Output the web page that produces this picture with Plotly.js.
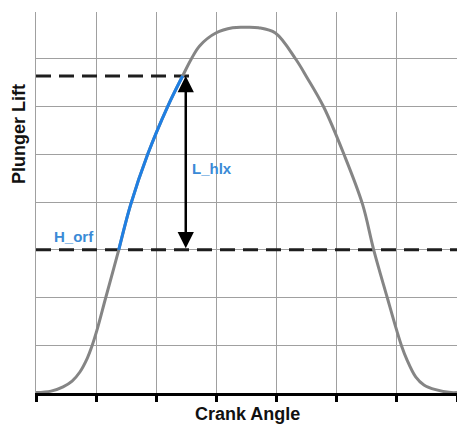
<!DOCTYPE html>
<html>
<head>
<meta charset="utf-8">
<script src="https://cdn.plot.ly/plotly-3.0.1.min.js"></script>
<style>html,body{margin:0;padding:0;background:#fff;}#chart{width:457px;height:426px;}</style>
</head>
<body>
<div id="chart"></div>
<script>
// Plunger lift profile vs crank angle (grid units)
const crankAngle = [0, 0.25, 0.45, 0.60, 0.73, 0.85, 0.93, 1.01, 1.16, 1.376, 1.575, 1.857, 2.189, 2.438, 2.58, 2.72, 2.99, 3.27, 3.47, 3.70, 3.98, 4.32, 4.50, 4.78, 5.12, 5.43, 5.615, 5.84, 6.00, 6.08, 6.16, 6.313, 6.45, 6.645, 6.90, 7.0];
const plungerLift = [0.01, 0.04, 0.13, 0.25, 0.44, 0.72, 0.98, 1.30, 2.0, 3.0, 3.95, 5.0, 6.0, 6.64, 6.99, 7.27, 7.54, 7.65, 7.66, 7.65, 7.54, 6.99, 6.62, 6.0, 5.0, 3.95, 3.0, 2.0, 1.30, 0.98, 0.72, 0.34, 0.17, 0.07, 0.01, 0.01];
// Helix segment: from orifice height to helix lift
const hOrf = 3.0;
const lHlxTop = 6.64;
const helixStartIdx = 9;
const helixEndIdx = 13;
const upperDashEnd = 2.6;
const arrowX = 2.49;
const labels = ["L_hlx", "H_orf"];
const axisTitles = ["Crank Angle", "Plunger Lift"];

const blueX = crankAngle.slice(helixStartIdx, helixEndIdx + 1);
const blueY = plungerLift.slice(helixStartIdx, helixEndIdx + 1);

const traces = [
  {x: [0, 7], y: [hOrf, hOrf], mode: 'lines', line: {color: '#1e1e1e', width: 3, dash: '15px,8px'}, hoverinfo: 'skip'},
  {x: [0, upperDashEnd], y: [lHlxTop, lHlxTop], mode: 'lines', line: {color: '#1e1e1e', width: 3, dash: '15px,8px'}, hoverinfo: 'skip'},
  {x: crankAngle, y: plungerLift, mode: 'lines', line: {color: '#858585', width: 3, shape: 'spline', smoothing: 1}},
  {x: blueX, y: blueY, mode: 'lines', line: {color: '#1f7fe3', width: 3, shape: 'spline', smoothing: 1}}
];

const layout = {
  width: 457, height: 426,
  margin: {l: 36, r: 0, t: 12, b: 33},
  showlegend: false,
  paper_bgcolor: '#fff', plot_bgcolor: '#fff',
  xaxis: {range: [0, 7], dtick: 1, tick0: 0, showticklabels: false, showgrid: true, gridcolor: '#a0a0a0', gridwidth: 1,
          zeroline: false, showline: true, linecolor: '#000', linewidth: 3, ticks: 'outside', ticklen: 6, tickwidth: 3, tickcolor: '#000'},
  yaxis: {range: [0, 7.98], dtick: 1, tick0: 0, showticklabels: false, showgrid: true, gridcolor: '#a0a0a0', gridwidth: 1,
          zeroline: false, showline: true, linecolor: '#a0a0a0', linewidth: 1, ticks: ''},
  annotations: [
    {x: arrowX, y: lHlxTop, ax: arrowX, ay: hOrf, xref: 'x', yref: 'y', axref: 'x', ayref: 'y', text: '', showarrow: true,
     arrowhead: 2, startarrowhead: 2, arrowside: 'end+start', arrowsize: 1.3, startarrowsize: 1.3, arrowwidth: 2.5, arrowcolor: '#000', standoff: 0, startstandoff: 0},
    {x: 2.565, y: 4.71, xref: 'x', yref: 'y', text: labels[0], showarrow: false, xanchor: 'left', yanchor: 'middle',
     font: {family: 'Liberation Sans, Arial, sans-serif', size: 15, color: '#3a8ad6', weight: 'bold'}},
    {x: 0.265, y: 3.27, xref: 'x', yref: 'y', text: labels[1], showarrow: false, xanchor: 'left', yanchor: 'middle',
     font: {family: 'Liberation Sans, Arial, sans-serif', size: 15, color: '#3a8ad6', weight: 'bold'}},
    {x: 3.515, y: -0.055, xref: 'x', yref: 'paper', text: axisTitles[0], showarrow: false, xanchor: 'center', yanchor: 'middle',
     font: {family: 'Liberation Sans, Arial, sans-serif', size: 18, color: '#111', weight: 'bold'}},
    {x: -0.04, y: 0.68, xref: 'paper', yref: 'paper', text: axisTitles[1], showarrow: false, textangle: -90, xanchor: 'center', yanchor: 'middle',
     font: {family: 'Liberation Sans, Arial, sans-serif', size: 18, color: '#111', weight: 'bold'}}
  ]
};

Plotly.newPlot('chart', traces, layout, {displayModeBar: false, staticPlot: true});
</script>
</body>
</html>
